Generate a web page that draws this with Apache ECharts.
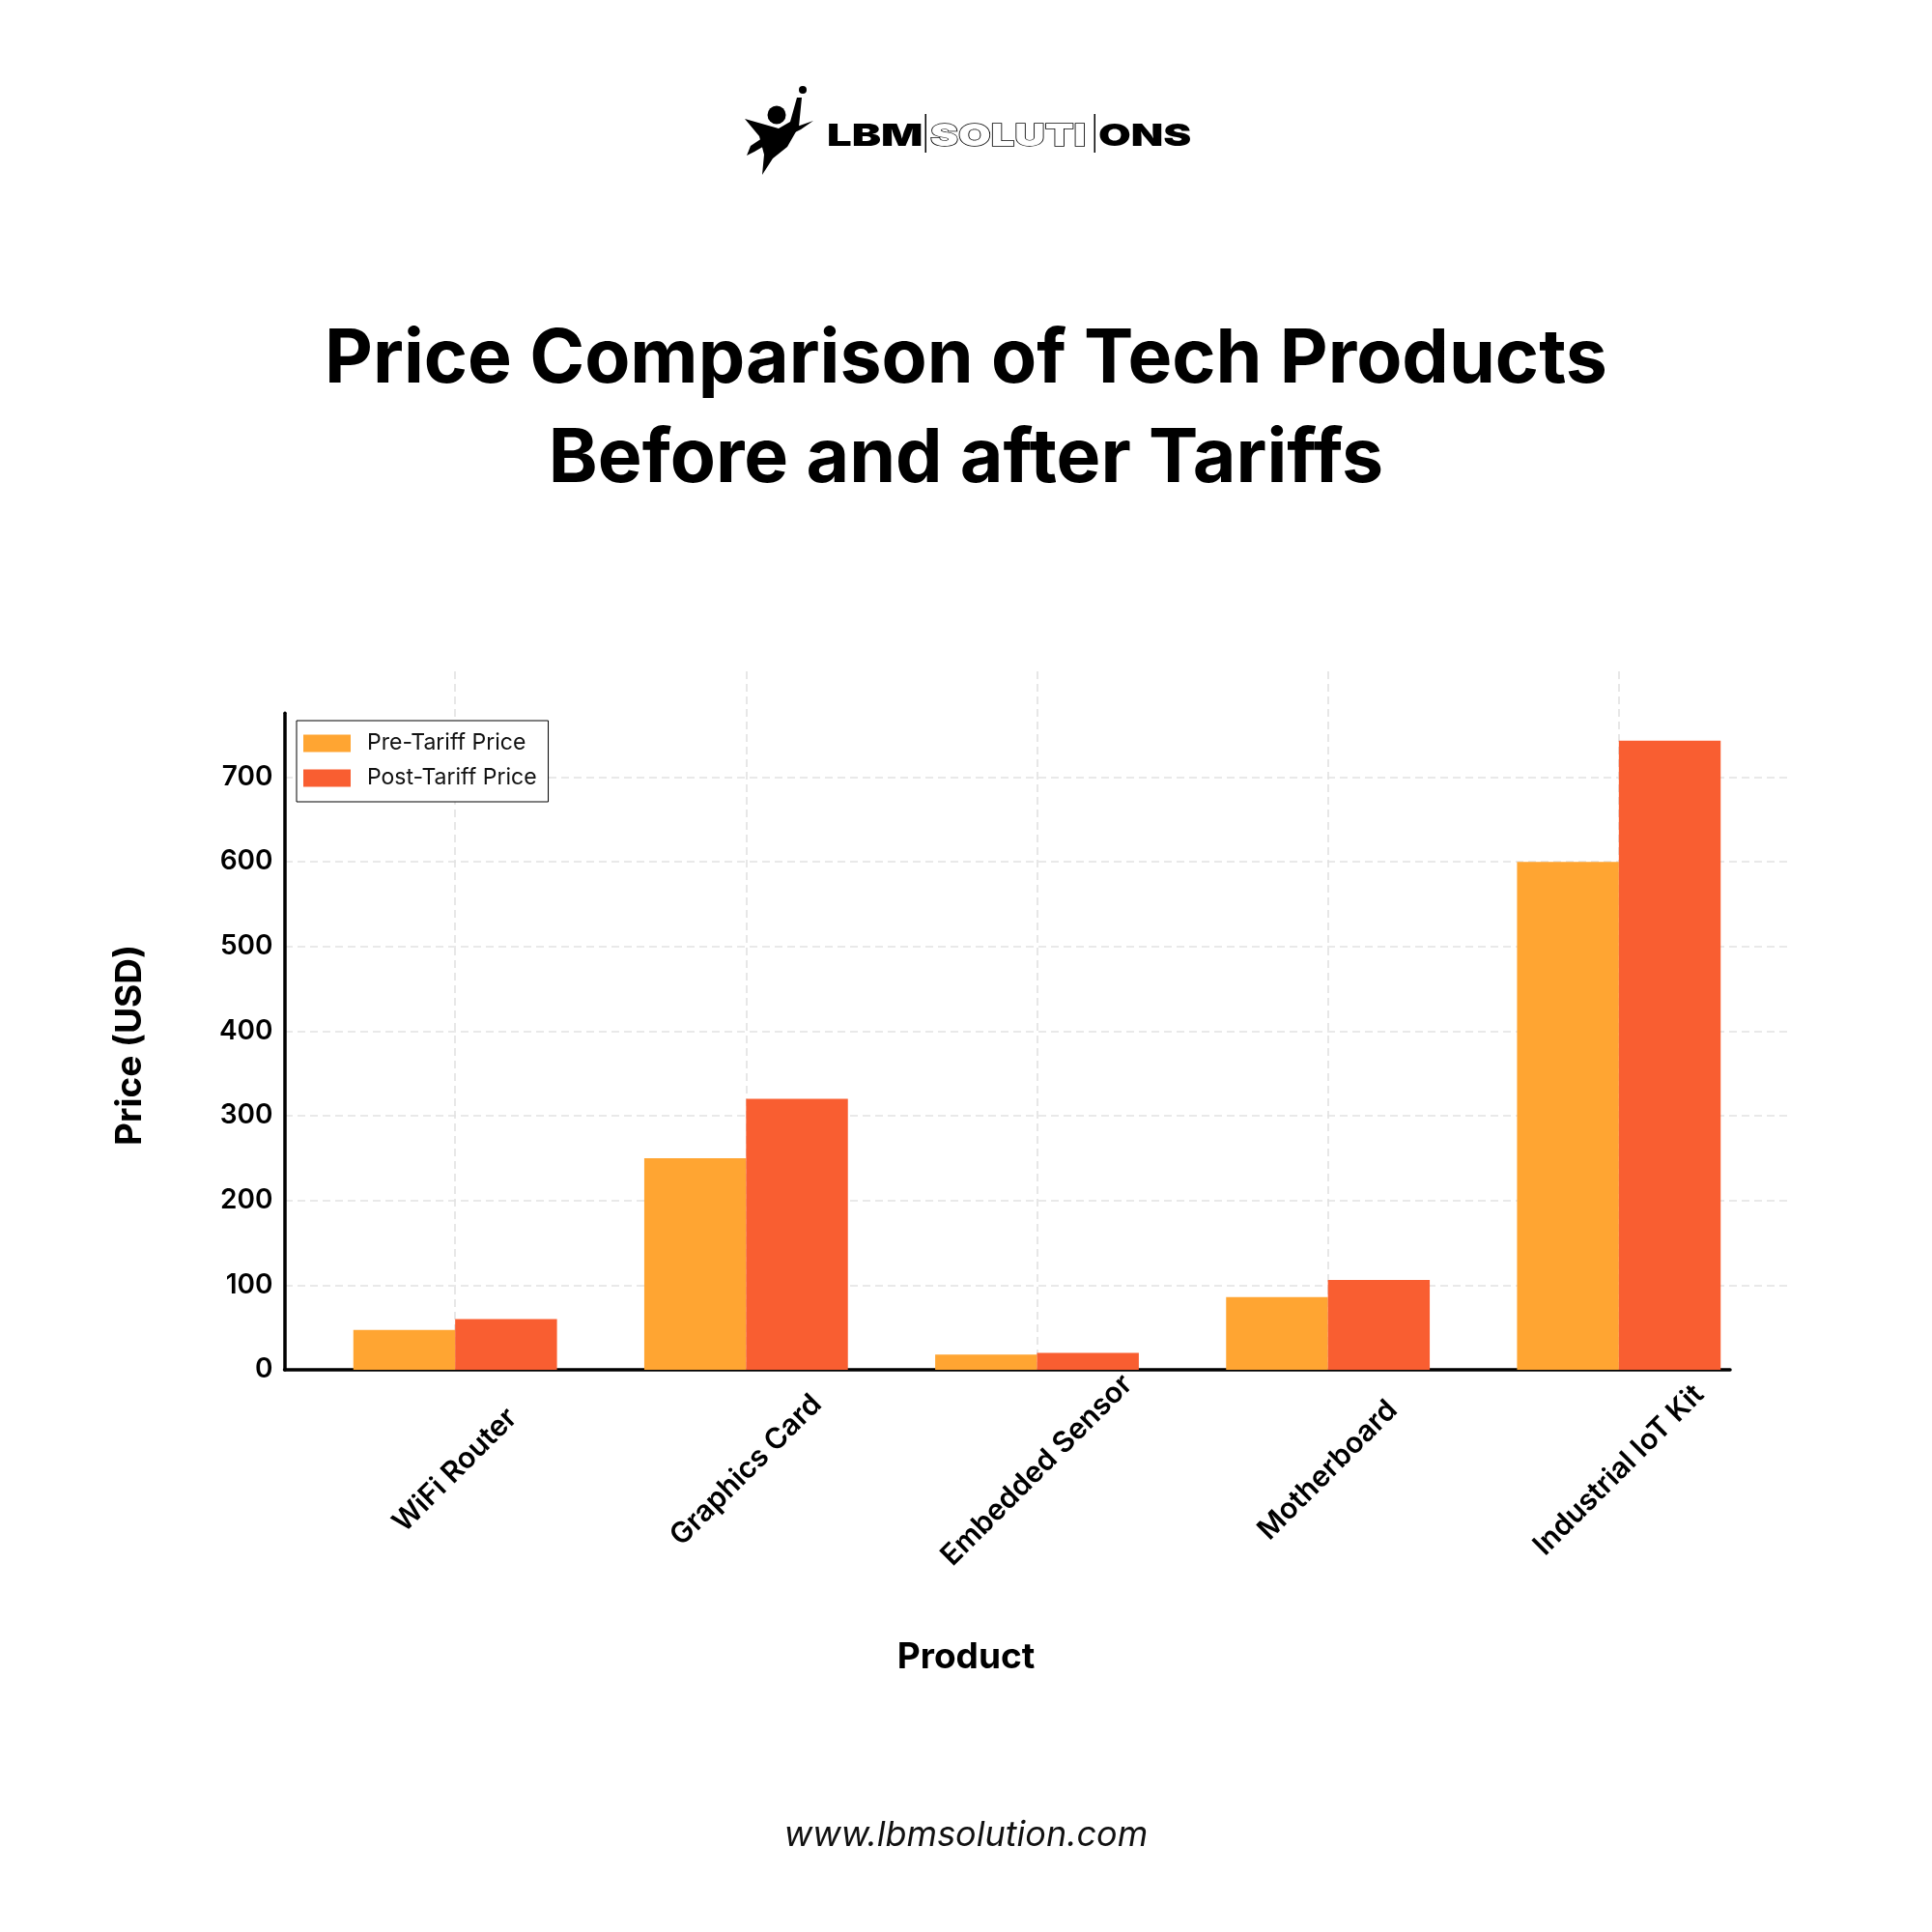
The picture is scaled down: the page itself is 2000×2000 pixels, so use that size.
<!DOCTYPE html>
<html>
<head>
<meta charset="utf-8">
<script src="https://cdn.jsdelivr.net/npm/echarts@6/dist/echarts.min.js"></script>
<style>
html,body{margin:0;padding:0;background:#fff}
#main{width:2000px;height:2000px}
</style>
</head>
<body>
<div id="main"></div>
<script>
var myChart = echarts.init(document.getElementById('main'));

// data
var products = ['WiFi Router', 'Graphics Card', 'Embedded Sensor', 'Motherboard', 'Industrial IoT Kit'];
var prePrice = [47, 250, 18, 86, 600];
var postPrice = [60, 320, 20, 106, 743];
var seriesNames = ['Pre-Tariff Price', 'Post-Tariff Price'];
var yTickMax = 700;   // last labelled tick
var yLimit = 828;     // top of the plot area (grid lines)
var ySpineTop = 775.3; // where the left spine stops

var FONT = 'Inter, "Noto Sans", sans-serif';
var gridLine = {color: '#e2e2e2', width: 1.6, type: [8, 5]};

option = {
    backgroundColor: '#fff',
    animation: false,
    title: {
        text: 'Price Comparison of Tech Products\nBefore and after Tariffs',
        left: 'center',
        top: 316,
        textStyle: {
            fontFamily: FONT,
            fontSize: 77,
            fontWeight: 700,
            color: '#000',
            lineHeight: 103
        }
    },
    legend: {
        data: seriesNames,
        orient: 'vertical',
        left: 307,
        top: 746,
        icon: 'rect',
        itemWidth: 49,
        itemHeight: 18,
        itemGap: 13,
        padding: [12, 12, 13, 7],
        backgroundColor: '#fff',
        borderColor: '#000',
        borderWidth: 1,
        borderRadius: 0,
        z: 10,
        textStyle: {
            fontFamily: FONT,
            fontSize: 23,
            color: '#111',
            lineHeight: 18,
            padding: [0, 0, 0, 12]
        }
    },
    grid: [
        // bars
        {left: 320.6, top: 692.3, width: 1505.8, height: 725.7},
        // horizontal grid lines (100..700)
        {left: 295, top: 804.3, width: 1557, height: 526},
        // spines + y labels
        {left: 294.5, top: 738.3, width: 1496.5, height: 679.7}
    ],
    xAxis: [{
        gridIndex: 0,
        type: 'category',
        data: products,
        axisLine: {show: false},
        axisTick: {show: false},
        splitLine: {show: false},
        axisLabel: {
            interval: 0,
            rotate: 45,
            align: 'center',
            verticalAlign: 'middle',
            margin: 104,
            fontFamily: FONT,
            fontSize: 30,
            fontWeight: 600,
            color: '#000'
        }
    }, {
        gridIndex: 1,
        type: 'value',
        min: 0,
        max: 1,
        show: false
    }, {
        gridIndex: 2,
        type: 'value',
        min: 0,
        max: 1,
        axisLine: {show: true, onZero: false, lineStyle: {color: '#000', width: 3.5}},
        axisTick: {show: false},
        axisLabel: {show: false},
        splitLine: {show: false}
    }],
    yAxis: [{
        gridIndex: 0,
        type: 'value',
        min: 0,
        max: yLimit,
        show: false
    }, {
        gridIndex: 1,
        type: 'value',
        min: 100,
        max: yTickMax,
        interval: 100,
        axisLine: {show: false},
        axisTick: {show: false},
        axisLabel: {show: false},
        splitLine: {show: true, lineStyle: gridLine}
    }, {
        gridIndex: 2,
        type: 'value',
        min: 0,
        max: ySpineTop,
        interval: 100,
        axisLine: {show: true, onZero: false, lineStyle: {color: '#000', width: 3.5}},
        axisTick: {show: false},
        splitLine: {show: false},
        axisLabel: {
            showMaxLabel: false,
            margin: 12,
            fontFamily: FONT,
            fontSize: 28,
            fontWeight: 600,
            color: '#000'
        }
    }],
    series: [{
        name: seriesNames[0],
        type: 'bar',
        xAxisIndex: 0,
        yAxisIndex: 0,
        data: prePrice,
        barWidth: '35%',
        barGap: '0%',
        itemStyle: {color: '#FFA532'}
    }, {
        name: seriesNames[1],
        type: 'bar',
        xAxisIndex: 0,
        yAxisIndex: 0,
        data: postPrice,
        barWidth: '35%',
        barGap: '0%',
        itemStyle: {color: '#F95E31'}
    }, {
        // carrier for the vertical grid lines at category centres
        name: 'grid',
        type: 'line',
        xAxisIndex: 0,
        yAxisIndex: 0,
        data: [],
        silent: true,
        markLine: {
            silent: true,
            z: 1,
            symbol: 'none',
            label: {show: false},
            lineStyle: gridLine,
            data: products.map(function (p) { return {xAxis: p}; })
        }
    }],
    graphic: [
        // axis titles
        {
            type: 'text', x: 135, y: 1082, rotation: Math.PI / 2,
            style: {text: 'Price (USD)', font: '700 37px ' + FONT, fill: '#000',
                textAlign: 'center', textVerticalAlign: 'middle'}
        },
        {
            type: 'text', x: 1000, y: 1716,
            style: {text: 'Product', font: '700 37px ' + FONT, fill: '#000',
                textAlign: 'center', textVerticalAlign: 'middle'}
        },
        // footer
        {
            type: 'text', x: 1000, y: 1900,
            style: {text: 'www.lbmsolution.com', font: 'italic 400 36px ' + FONT, fill: '#111',
                textAlign: 'center', textVerticalAlign: 'middle'}
        },
        // logo
        {
            type: 'group',
            children: [
                {type: 'circle', shape: {cx: 804, cy: 119, r: 9.5}, style: {fill: '#000'}},
                {type: 'polygon', shape: {points: [[771, 123], [792, 129], [806, 133], [818, 126], [825, 101],
                    [830, 101], [827, 131], [815, 152], [800, 164], [789, 181], [791, 160], [786, 141]]},
                    style: {fill: '#000'}},
                {type: 'circle', shape: {cx: 831, cy: 93, r: 4}, style: {fill: '#000'}},
                {type: 'polygon', shape: {points: [[773, 161], [777, 151], [789, 143], [808, 137], [825, 131],
                    [842, 125], [829, 134], [811, 143], [793, 150], [781, 157]]},
                    style: {fill: '#000'}},
                {type: 'text', x: 856, y: 141, scaleX: 1.42,
                    style: {text: 'LBM', font: '900 32px ' + FONT, fill: '#000', textVerticalAlign: 'middle'}},
                {type: 'rect', shape: {x: 957.5, y: 118, width: 1.5, height: 40}, style: {fill: '#000'}},
                {type: 'text', x: 963, y: 141, scaleX: 1.36,
                    style: {text: 'SOLUTI', font: '900 32px ' + FONT, fill: '#fff', stroke: '#000', lineWidth: 1.3,
                        textVerticalAlign: 'middle'}},
                {type: 'rect', shape: {x: 1132.5, y: 118, width: 1.5, height: 40}, style: {fill: '#000'}},
                {type: 'text', x: 1137, y: 141, scaleX: 1.36,
                    style: {text: 'ONS', font: '900 32px ' + FONT, fill: '#000', textVerticalAlign: 'middle'}}
            ]
        }
    ]
};

myChart.setOption(option);
window.onresize = myChart.resize;
</script>
</body>
</html>
